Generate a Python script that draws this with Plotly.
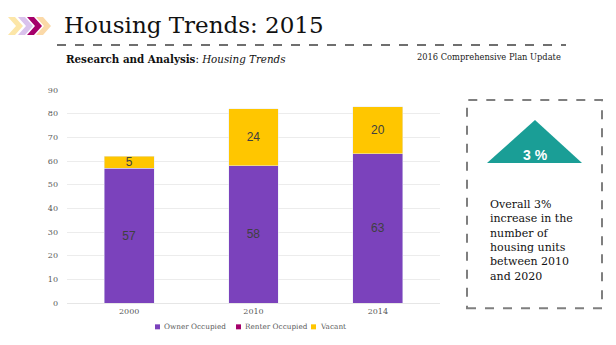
import plotly.graph_objects as go

years = ["2000", "2010", "2014"]
owner = [57, 58, 63]
renter = [None, None, None]
vacant = [5, 24, 20]
y_ticks = [0, 10, 20, 30, 40, 50, 60, 70, 80, 90]
series_names = ["Owner Occupied", "Renter Occupied", "Vacant"]
series_colors = ["#7B42BC", "#A5006B", "#FFC600"]

W, H = 616, 345
L, R, T, B = 67, 440, 90, 302.7
SERIF = "DejaVu Serif"

def px(x):
    return (x - L) / (R - L)

def py(y):
    return (B - y) / (B - T)

fig = go.Figure()
for name, vals, col in zip(series_names, [owner, renter, vacant], series_colors):
    fig.add_trace(go.Bar(name=name, x=years, y=vals, marker_color=col,
                         text=vals, textposition="inside", insidetextanchor="middle",
                         textangle=0, constraintext="none",
                         textfont=dict(family="Liberation Sans", size=12, color="#404040")))

shapes = []
# chevrons
chev = [(8, "#FCE6A8"), (18, "#D9C2EC"), (27, "#A5006B"), (36, "#FBD9A8")]
for x0, col in chev:
    w, d, t, b = 7, 8, 17, 35
    m = (t + b) / 2
    pts = [(x0, t), (x0 + w, t), (x0 + w + d, m), (x0 + w, b), (x0, b), (x0 + d, m)]
    path = "M " + " L ".join(f"{px(a):.4f},{py(c):.4f}" for a, c in pts) + " Z"
    shapes.append(dict(type="path", xref="paper", yref="paper", path=path,
                       fillcolor=col, line=dict(width=0), layer="above"))
# header dashed line
shapes.append(dict(type="line", xref="paper", yref="paper", x0=px(57), x1=px(566),
                   y0=py(45), y1=py(45), line=dict(color="#404040", width=1.5, dash="dash")))
# dashed box
shapes.append(dict(type="rect", xref="paper", yref="paper", x0=px(467), x1=px(602),
                   y0=py(308), y1=py(100), line=dict(color="#7f7f7f", width=2, dash="dash")))
# triangle
tri = [(535, 120), (582, 163), (487, 163)]
shapes.append(dict(type="path", xref="paper", yref="paper",
                   path="M " + " L ".join(f"{px(a):.4f},{py(c):.4f}" for a, c in tri) + " Z",
                   fillcolor="#1A9E96", line=dict(width=0)))

annotations = [
    dict(text="Housing Trends: 2015", x=px(62), y=py(25), xanchor="left", yanchor="middle",
         font=dict(family=SERIF, size=23, color="#111111")),
    dict(text="<b>Research and Analysis</b>: <i>Housing Trends</i>", x=px(64), y=py(59),
         xanchor="left", yanchor="middle",
         font=dict(family=SERIF, size=10.3, color="#111111")),
    dict(text="2016 Comprehensive Plan Update", x=px(563), y=py(57), xanchor="right",
         yanchor="middle", font=dict(family=SERIF, size=8.3, color="#222222")),
    dict(text="<b>3 %</b>", x=px(535), y=py(155), xanchor="center", yanchor="middle",
         font=dict(family="Liberation Sans", size=14, color="white")),
    dict(text="Overall 3%<br>increase in the<br>number of<br>housing units<br>between 2010<br>and 2020",
         x=px(488), y=py(196), xanchor="left", yanchor="top", align="left",
         font=dict(family=SERIF, size=11, color="#111111")),
]

# custom compact legend
leg_x = [155, 236, 311]
for name, col, lx in zip(series_names, series_colors, leg_x):
    shapes.append(dict(type="rect", xref="paper", yref="paper", x0=px(lx), x1=px(lx + 5),
                       y0=py(329), y1=py(324), fillcolor=col, line=dict(width=0)))
    annotations.append(dict(text=name, x=px(lx + 7), y=py(326.5), xanchor="left",
                            yanchor="middle",
                            font=dict(family=SERIF, size=7.3, color="#595959")))

for a in annotations:
    a.update(xref="paper", yref="paper", showarrow=False)

fig.update_layout(
    width=W, height=H, barmode="stack", bargap=0.6,
    margin=dict(l=L, r=W - R, t=T, b=H - B),
    paper_bgcolor="white", plot_bgcolor="white",
    shapes=shapes, annotations=annotations,
    showlegend=False,
    font=dict(family=SERIF, size=8, color="#595959"),
)
fig.update_xaxes(showgrid=False, showline=True, linecolor="#e6e6e6", ticks="",
                 tickfont=dict(size=8, color="#595959"))
fig.update_yaxes(range=[0, 90], tickvals=y_ticks, showgrid=True, gridcolor="#ececec",
                 zeroline=False, ticks="", tickfont=dict(size=8, color="#595959"),
                 ticklabelstandoff=8)

fig.write_html("out.html")
